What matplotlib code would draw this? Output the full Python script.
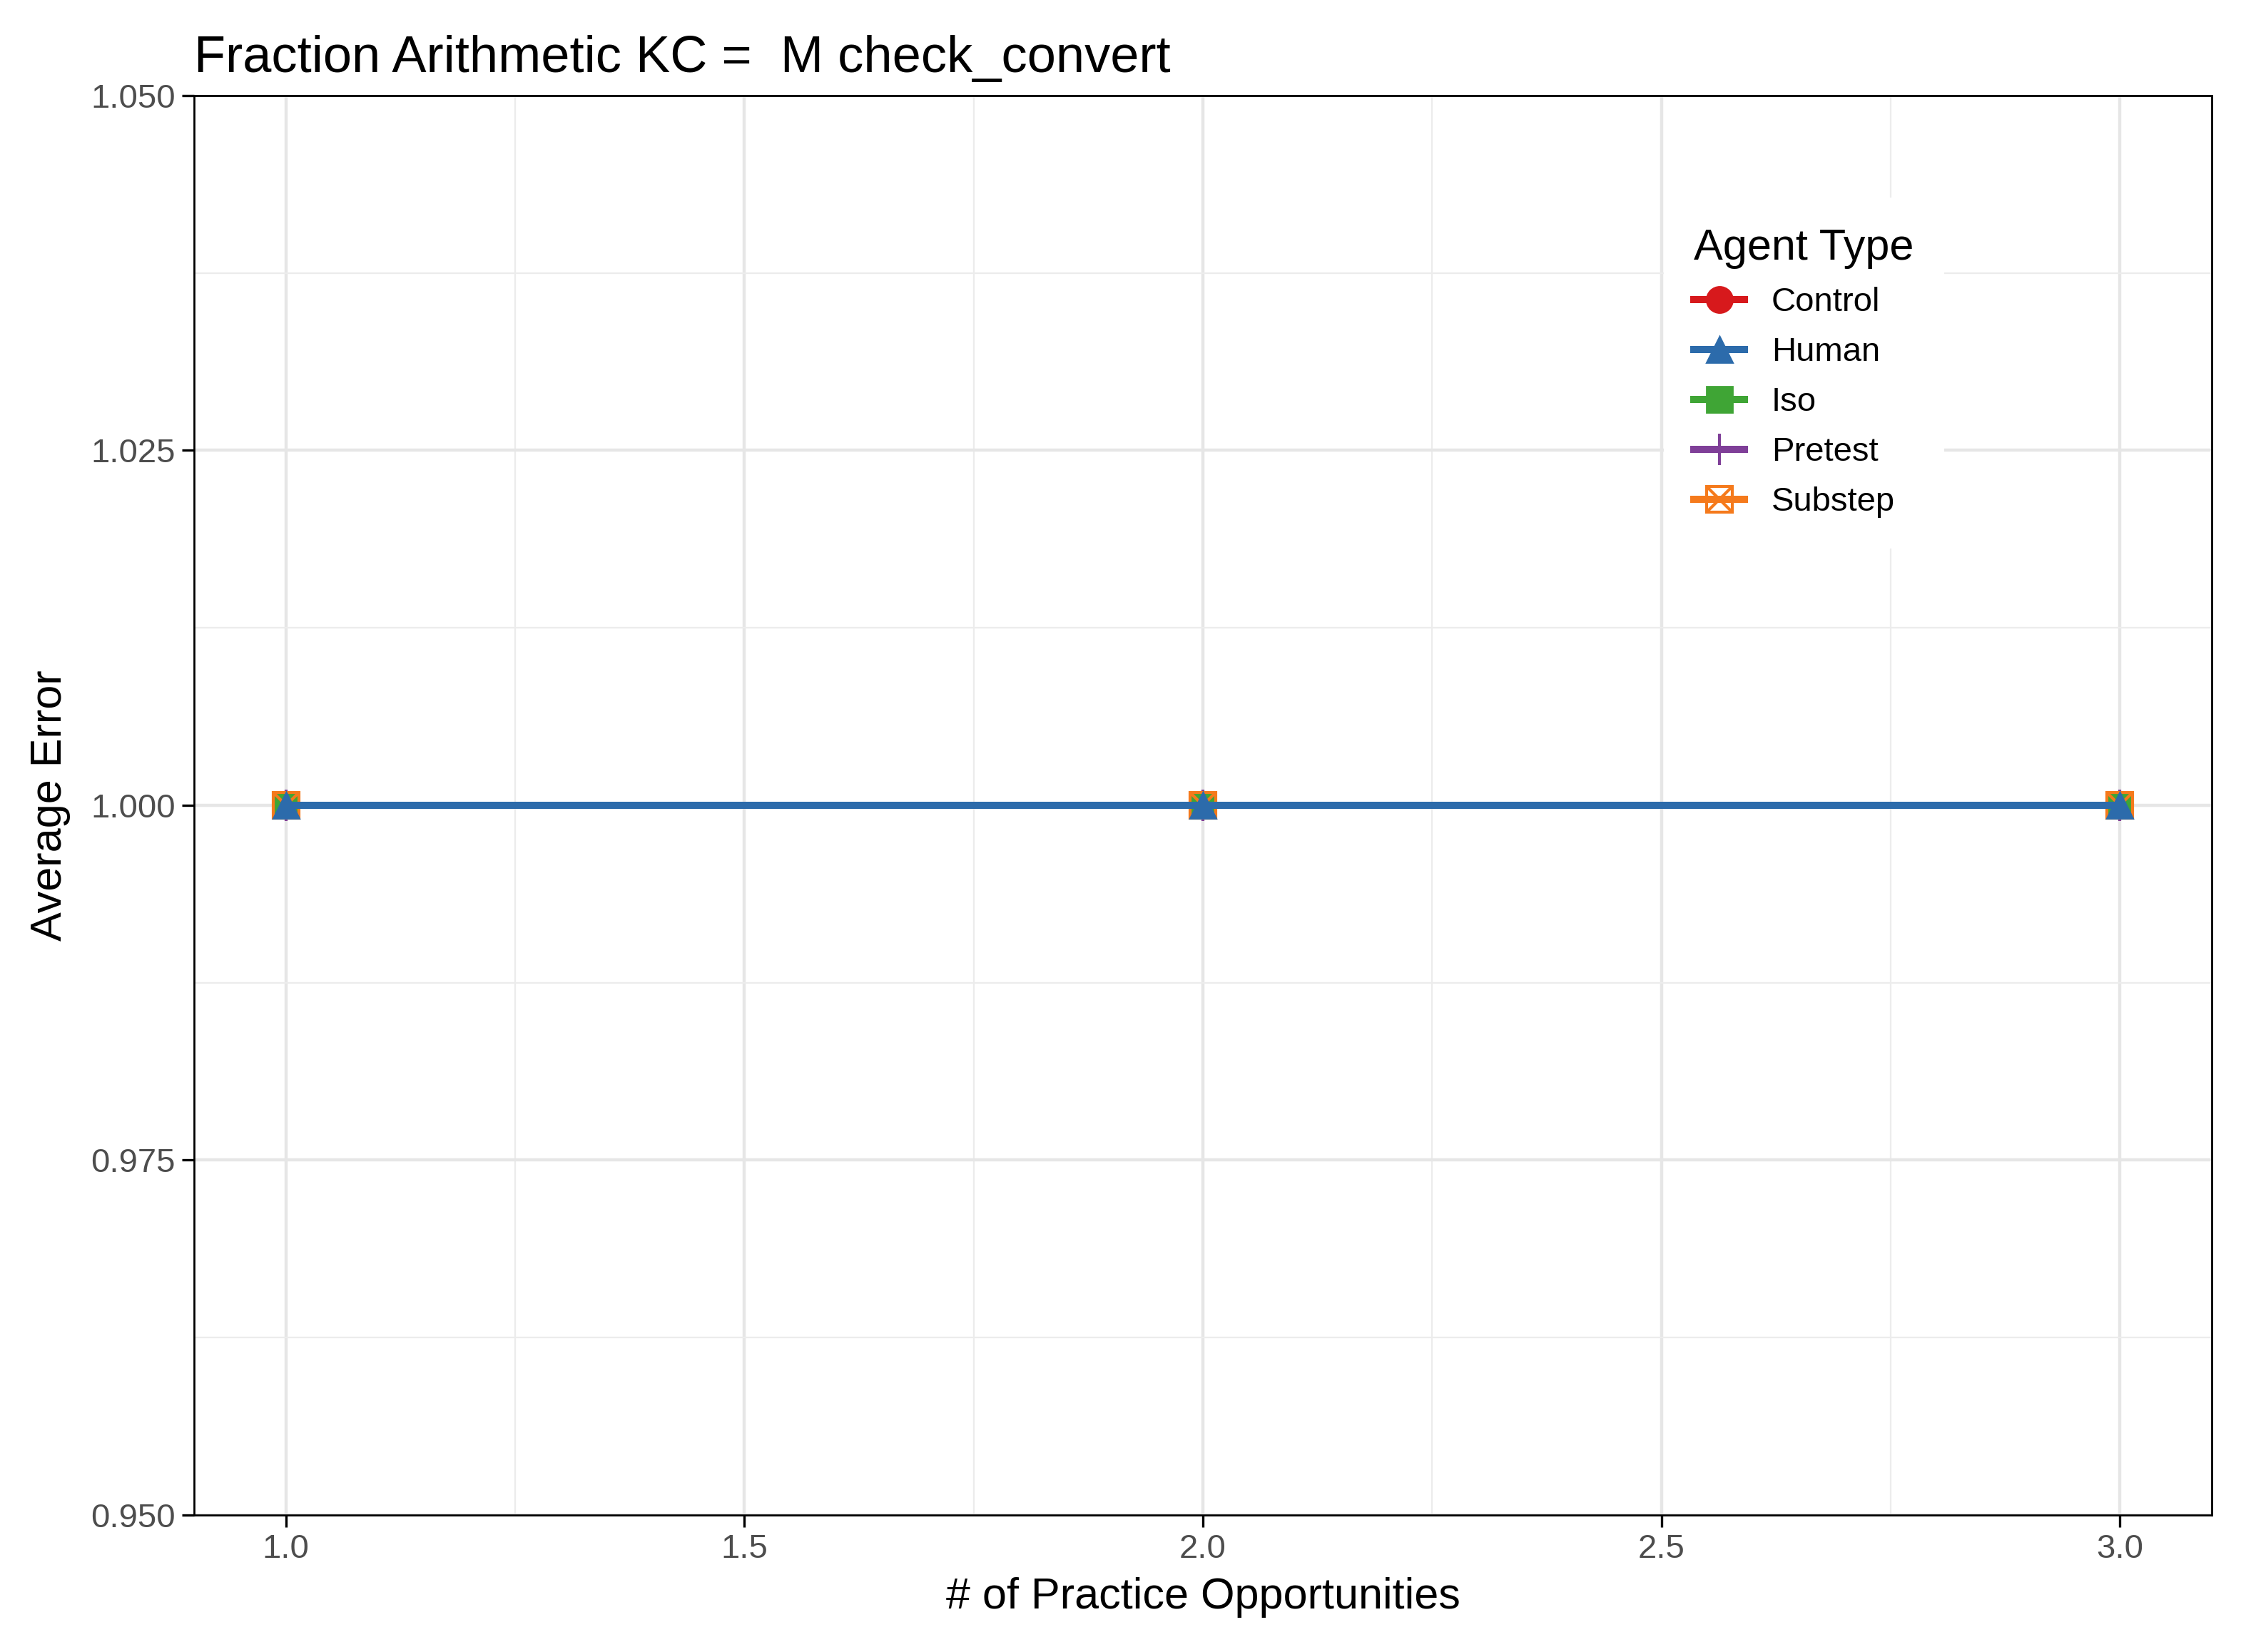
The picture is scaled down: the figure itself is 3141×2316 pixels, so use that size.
import matplotlib
matplotlib.use("Agg")
import matplotlib.pyplot as plt
from matplotlib.ticker import MultipleLocator, FormatStrFormatter
from matplotlib.legend_handler import HandlerTuple

plt.rcParams['font.family'] = ['Liberation Sans', 'DejaVu Sans']

opportunities = [1, 2, 3]
agents = ["Control", "Human", "Iso", "Pretest", "Substep"]
errors = {
    "Control": [1.0, 1.0, 1.0],
    "Human": [1.0, 1.0, 1.0],
    "Iso": [1.0, 1.0, 1.0],
    "Pretest": [1.0, 1.0, 1.0],
    "Substep": [1.0, 1.0, 1.0],
}
colors = {"Control": "#d7191c", "Human": "#2c6bab", "Iso": "#3fa535",
          "Pretest": "#7f3f98", "Substep": "#f57a1c"}
markers = {"Control": "o", "Human": "^", "Iso": "s", "Pretest": "|", "Substep": "s"}

fig = plt.figure(figsize=(15.705, 11.58), dpi=200)
ax = fig.add_axes([272 / 3141, 1 - 2124 / 2316, 2828 / 3141, 1990 / 2316])

# Human drawn last so it sits on top
order = ["Control", "Iso", "Pretest", "Substep", "Human"]
handles = {}
for a in order:
    c = colors[a]
    if a == "Substep":
        h, = ax.plot(opportunities, errors[a], color=c, lw=3.6, marker="s", ms=13,
                     mfc="none", mec=c, mew=1.5)
        ax.plot(opportunities, errors[a], ls="none", marker="x", ms=12, color=c, mew=1.5)
        h2, = ax.plot([], [], ls="none", marker="x", ms=12, color=c, mew=1.5)
        handles[a] = (h, h2)
    elif a == "Pretest":
        h, = ax.plot(opportunities, errors[a], color=c, lw=3.6, marker="|", ms=16, mew=1.5)
        handles[a] = h
    else:
        h, = ax.plot(opportunities, errors[a], color=c, lw=3.6, marker=markers[a], ms=13)
        handles[a] = h

ax.set_xlim(0.9, 3.1)
ax.set_ylim(0.95, 1.05)
ax.xaxis.set_major_locator(MultipleLocator(0.5))
ax.xaxis.set_minor_locator(MultipleLocator(0.25))
ax.yaxis.set_major_locator(MultipleLocator(0.025))
ax.yaxis.set_minor_locator(MultipleLocator(0.0125))
ax.xaxis.set_major_formatter(FormatStrFormatter("%.1f"))
ax.yaxis.set_major_formatter(FormatStrFormatter("%.3f"))
ax.grid(True, which="major", color="#e6e6e6", lw=1.6)
ax.grid(True, which="minor", color="#ececec", lw=0.8)
ax.set_axisbelow(True)
ax.tick_params(which="major", direction="out", length=6, width=1.2, labelsize=17,
               labelcolor="#4d4d4d")
ax.tick_params(which="minor", length=0)
for s in ax.spines.values():
    s.set_color("black")
    s.set_linewidth(1)

ax.set_xlabel("# of Practice Opportunities", fontsize=22, labelpad=6)
ax.set_ylabel("Average Error", fontsize=22, labelpad=10)
ax.set_title("Fraction Arithmetic KC =  M check_convert", fontsize=26, loc="left", pad=12)

leg = ax.legend([handles[a] for a in agents], agents, title="Agent Type",
                loc="upper left", bbox_to_anchor=(0.72, 0.94), frameon=True,
                fontsize=17, title_fontsize=22, handlelength=1.5,
                handler_map={tuple: HandlerTuple(ndivide=1, pad=0)},
                borderpad=0.9, labelspacing=0.55, alignment="left")
leg.get_frame().set_edgecolor("none")
leg.get_frame().set_facecolor("white")
leg.get_frame().set_alpha(1)

fig.savefig("out.png", dpi=200)
